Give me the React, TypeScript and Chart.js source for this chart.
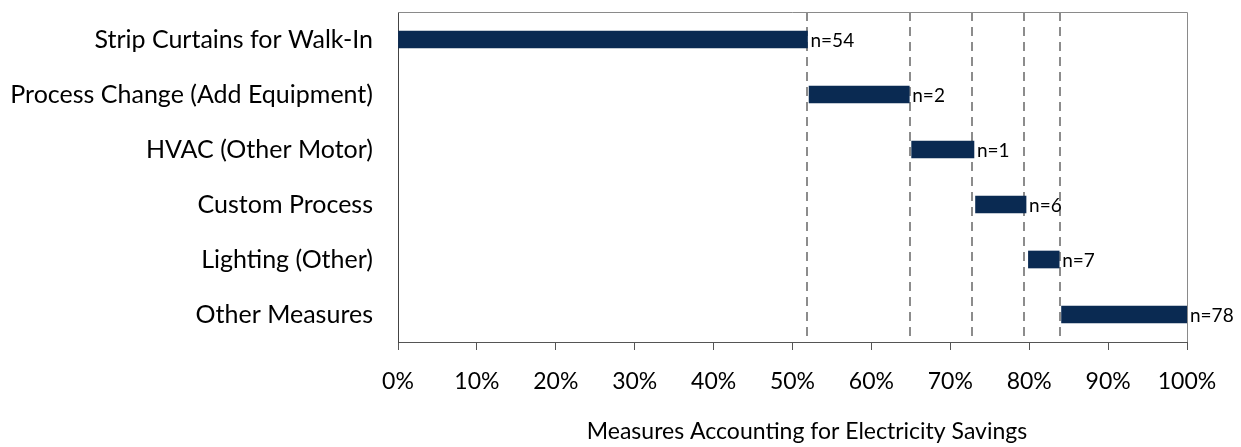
import { useEffect, useRef } from "react";
import { Chart, registerables } from "chart.js";

Chart.register(...registerables);

// Measures ranked by their share of electricity savings (cumulative %).
const measures = [
  "Strip Curtains for Walk-In",
  "Process Change (Add Equipment)",
  "HVAC (Other Motor)",
  "Custom Process",
  "Lighting (Other)",
  "Other Measures",
];
const barStarts = [0, 52.1, 65.1, 73.2, 79.9, 84.1];
const barEnds = [51.9, 64.8, 73.0, 79.6, 83.8, 100];
const measureCounts = [54, 2, 1, 6, 7, 78];
// cumulative breakpoints marked with dashed guides
const cumulativeBreaks = [51.9, 64.9, 72.7, 79.4, 83.9];
const axisTitle = "Measures Accounting for Electricity Savings";

const FONT = "Lato, 'Open Sans', sans-serif";
const BAR_COLOR = "#0a2a52";
const Y_LABEL_GAP = 25;

const guidesPlugin = {
  id: "guides",
  beforeDatasetsDraw(chart: any) {
    const { ctx, chartArea, scales } = chart;
    ctx.save();
    // light frame on the top and right sides of the plot
    ctx.strokeStyle = "#8a8a8a";
    ctx.lineWidth = 1;
    ctx.beginPath();
    ctx.moveTo(chartArea.left, chartArea.top + 0.5);
    ctx.lineTo(chartArea.right + 0.5, chartArea.top + 0.5);
    ctx.lineTo(chartArea.right + 0.5, chartArea.bottom);
    ctx.stroke();
    // dashed cumulative guides
    ctx.strokeStyle = "#8c8c8c";
    ctx.lineWidth = 2;
    ctx.setLineDash([9, 6]);
    for (const v of cumulativeBreaks) {
      const x = Math.round(scales.x.getPixelForValue(v));
      ctx.beginPath();
      ctx.moveTo(x, chartArea.top);
      ctx.lineTo(x, chartArea.bottom);
      ctx.stroke();
    }
    ctx.restore();
  },
  afterDatasetsDraw(chart: any) {
    const { ctx } = chart;
    const meta = chart.getDatasetMeta(0);
    ctx.save();
    ctx.font = `19px ${FONT}`;
    ctx.fillStyle = "#000";
    ctx.textAlign = "left";
    ctx.textBaseline = "middle";
    meta.data.forEach((bar: any, i: number) => {
      ctx.fillText(`n=${measureCounts[i]}`, bar.x + 3, bar.y + 1);
    });
    ctx.restore();
  },
  afterDraw(chart: any) {
    // x-axis title, centred between the category labels' edge and the canvas edge
    const { ctx, chartArea, width, height } = chart;
    ctx.save();
    ctx.font = `23px ${FONT}`;
    ctx.fillStyle = "#000";
    ctx.textAlign = "center";
    ctx.textBaseline = "middle";
    const labelEdge = chartArea.left - Y_LABEL_GAP;
    ctx.fillText(axisTitle, (labelEdge + width) / 2, height - 15);
    ctx.restore();
  },
};

export default function App() {
  const canvasRef = useRef<HTMLCanvasElement | null>(null);

  useEffect(() => {
    if (!canvasRef.current) return;
    const chart = new Chart(canvasRef.current, {
      type: "bar",
      data: {
        labels: measures,
        datasets: [
          {
            data: measures.map((_, i) => [barStarts[i], barEnds[i]]) as any,
            backgroundColor: BAR_COLOR,
            borderWidth: 0,
            borderSkipped: false,
            barThickness: 17,
          },
        ],
      },
      options: {
        indexAxis: "y",
        animation: false,
        responsive: false,
        maintainAspectRatio: false,
        layout: { autoPadding: false, padding: { top: 12, right: 54, left: 0, bottom: 0 } },
        plugins: {
          legend: { display: false },
          tooltip: { enabled: false },
        },
        scales: {
          x: {
            min: 0,
            max: 100,
            afterFit(scale: any) {
              scale.height = 105;
              scale.paddingLeft = 0;
              scale.paddingRight = 0;
            },
            ticks: {
              stepSize: 10,
              callback: (v: any) => `${v}%`,
              font: { family: FONT, size: 23 },
              color: "#000",
              padding: 18,
              maxRotation: 0,
            },
            grid: {
              drawOnChartArea: false,
              drawTicks: true,
              tickLength: 8,
              color: "#555",
            },
            border: { color: "#555", width: 1 },
            title: { display: false },
          },
          y: {
            afterFit(scale: any) {
              scale.width = 398;
              scale.paddingTop = 0;
              scale.paddingBottom = 0;
            },
            ticks: {
              font: { family: FONT, size: 25 },
              color: "#000",
              padding: Y_LABEL_GAP,
            },
            grid: { display: false, drawTicks: false },
            border: { color: "#444", width: 1 },
          },
        },
      },
      plugins: [guidesPlugin],
    });
    return () => chart.destroy();
  }, []);

  return (
    <div style={{ position: "fixed", left: 0, top: 0, width: 1241, height: 447, background: "#fff" }}>
      <canvas ref={canvasRef} width={1241} height={447} style={{ width: 1241, height: 447 }} />
    </div>
  );
}
